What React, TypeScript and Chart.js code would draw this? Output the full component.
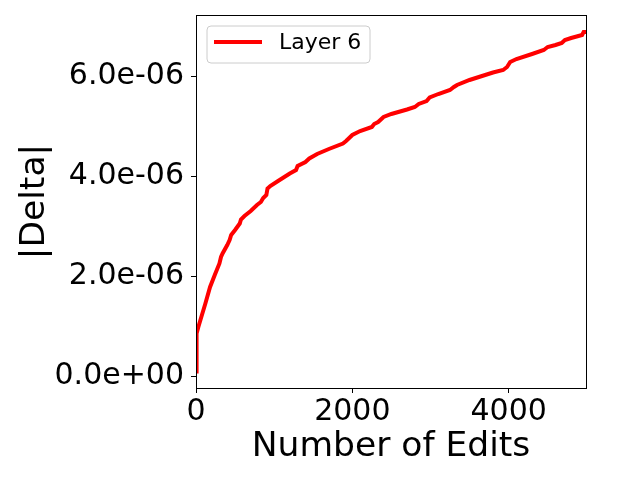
import React, { useEffect, useRef } from "react";
import { Chart, registerables } from "chart.js";

Chart.register(...registerables);

const seriesLabel = "Layer 6";
const xTickValues = [0, 2000, 4000];
const yTickValues = [0, 2e-6, 4e-6, 6e-6];

const editCounts = [
  0, 5, 10, 30, 70, 120, 180, 240, 300, 320, 340, 400, 430, 450, 500, 560, 575, 620, 700, 780,
  830, 860, 900, 915, 950, 1050, 1200, 1280, 1300, 1400, 1450, 1550, 1700, 1880, 1920, 1960,
  2000, 2100, 2250, 2280, 2330, 2400, 2500, 2700, 2800, 2850, 2950, 2990, 3100, 3250, 3300,
  3340, 3500, 3700, 3800, 3930, 3980, 4020, 4100, 4300, 4450, 4500, 4600, 4680, 4720, 4800,
  4940, 4960, 4990,
];

const deltaValues = [
  0.09e-6, 0.5e-6, 0.85e-6, 0.98e-6, 1.19e-6, 1.45e-6, 1.78e-6, 2.02e-6, 2.25e-6, 2.38e-6,
  2.45e-6, 2.62e-6, 2.72e-6, 2.82e-6, 2.92e-6, 3.05e-6, 3.13e-6, 3.2e-6, 3.3e-6, 3.42e-6,
  3.48e-6, 3.56e-6, 3.62e-6, 3.75e-6, 3.8e-6, 3.9e-6, 4.05e-6, 4.12e-6, 4.2e-6, 4.28e-6,
  4.35e-6, 4.44e-6, 4.54e-6, 4.65e-6, 4.7e-6, 4.76e-6, 4.82e-6, 4.9e-6, 4.98e-6, 5.04e-6,
  5.08e-6, 5.18e-6, 5.24e-6, 5.33e-6, 5.38e-6, 5.44e-6, 5.5e-6, 5.57e-6, 5.64e-6, 5.72e-6,
  5.78e-6, 5.82e-6, 5.92e-6, 6.02e-6, 6.07e-6, 6.12e-6, 6.18e-6, 6.28e-6, 6.34e-6, 6.44e-6,
  6.52e-6, 6.58e-6, 6.62e-6, 6.66e-6, 6.72e-6, 6.76e-6, 6.82e-6, 6.88e-6, 6.88e-6,
];

const FONT = "'DejaVu Sans', sans-serif";

function fmtSci(v: number): string {
  if (Math.abs(v) < 1e-20) return "0.0e+00";
  let exp = Math.floor(Math.log10(Math.abs(v)) + 1e-9);
  let mant = v / Math.pow(10, exp);
  let m = mant.toFixed(1);
  if (m === "10.0") {
    exp += 1;
    m = "1.0";
  }
  const sign = exp < 0 ? "-" : "+";
  const e = Math.abs(exp).toString().padStart(2, "0");
  return `${m}e${sign}${e}`;
}

const framePlugin = {
  id: "frameAndLegend",
  afterDraw(chart: any) {
    const { ctx, chartArea } = chart;
    const { left, top, right, bottom } = chartArea;
    ctx.save();
    ctx.strokeStyle = "#000";
    ctx.lineWidth = 1;
    ctx.strokeRect(Math.round(left) + 0.5, Math.round(top) + 0.5, Math.round(right - left), Math.round(bottom - top));

    // legend box
    const bx = left + 11;
    const by = top + 11;
    const bw = 163;
    const bh = 37;
    const r = 4;
    ctx.beginPath();
    ctx.moveTo(bx + r, by);
    ctx.lineTo(bx + bw - r, by);
    ctx.quadraticCurveTo(bx + bw, by, bx + bw, by + r);
    ctx.lineTo(bx + bw, by + bh - r);
    ctx.quadraticCurveTo(bx + bw, by + bh, bx + bw - r, by + bh);
    ctx.lineTo(bx + r, by + bh);
    ctx.quadraticCurveTo(bx, by + bh, bx, by + bh - r);
    ctx.lineTo(bx, by + r);
    ctx.quadraticCurveTo(bx, by, bx + r, by);
    ctx.closePath();
    ctx.fillStyle = "rgba(255,255,255,0.8)";
    ctx.fill();
    ctx.strokeStyle = "#cccccc";
    ctx.lineWidth = 1;
    ctx.stroke();

    ctx.beginPath();
    ctx.moveTo(bx + 7, by + 16);
    ctx.lineTo(bx + 55, by + 16);
    ctx.strokeStyle = "#ff0000";
    ctx.lineWidth = 4;
    ctx.stroke();

    ctx.fillStyle = "#000";
    ctx.font = `22px ${FONT}`;
    ctx.textBaseline = "middle";
    ctx.textAlign = "left";
    ctx.fillText(seriesLabel, bx + 72, by + 17);
    ctx.restore();
  },
};

export default function App() {
  const ref = useRef<HTMLCanvasElement | null>(null);

  useEffect(() => {
    if (!ref.current) return;
    const points = editCounts.map((x, i) => ({ x, y: deltaValues[i] }));
    const chart = new Chart(ref.current, {
      type: "line",
      data: {
        datasets: [
          {
            label: seriesLabel,
            data: points,
            borderColor: "#ff0000",
            backgroundColor: "#ff0000",
            borderWidth: 4,
            pointRadius: 0,
            tension: 0,
            fill: false,
          },
        ],
      },
      options: {
        animation: false,
        responsive: true,
        maintainAspectRatio: false,
        layout: { padding: { top: 15, right: 54, left: 0, bottom: 0 } },
        plugins: {
          legend: { display: false },
          tooltip: { enabled: false },
        },
        scales: {
          x: {
            type: "linear",
            min: 0,
            max: 4990,
            afterBuildTicks: (axis: any) => {
              axis.ticks = xTickValues.map((v) => ({ value: v }));
            },
            afterFit: (axis: any) => {
              axis.height = 92;
              axis.paddingLeft = 0;
              axis.paddingRight = 0;
            },
            grid: {
              display: true,
              drawOnChartArea: false,
              drawTicks: true,
              tickLength: 5,
              color: "#000",
              lineWidth: 1,
            },
            border: { display: false },
            ticks: {
              color: "#000",
              padding: 1,
              maxRotation: 0,
              font: { family: FONT, size: 30 },
              callback: (v: any) => String(v),
            },
            title: {
              display: true,
              text: "Number of Edits",
              color: "#000",
              font: { family: FONT, size: 34.5, lineHeight: 1.2 },
              padding: { top: 0, bottom: 12 },
            },
          },
          y: {
            type: "linear",
            min: -0.24e-6,
            max: 7.22e-6,
            afterBuildTicks: (axis: any) => {
              axis.ticks = yTickValues.map((v) => ({ value: v }));
            },
            afterFit: (axis: any) => {
              axis.width = 196;
              axis.paddingTop = 0;
              axis.paddingBottom = 0;
            },
            grid: {
              display: true,
              drawOnChartArea: false,
              drawTicks: true,
              tickLength: 5,
              color: "#000",
              lineWidth: 1,
            },
            border: { display: false },
            ticks: {
              color: "#000",
              padding: 7,
              font: { family: FONT, size: 30 },
              callback: (v: any) => fmtSci(Number(v)),
            },
            title: {
              display: true,
              text: "|Delta|",
              color: "#000",
              font: { family: FONT, size: 34.5, lineHeight: 1.2 },
              padding: { top: 14, bottom: 0 },
            },
          },
        },
      },
      plugins: [framePlugin],
    });
    return () => chart.destroy();
  }, []);

  return (
    <div style={{ position: "absolute", left: 0, top: 0, width: 640, height: 480, background: "#fff" }}>
      <canvas ref={ref} />
    </div>
  );
}
